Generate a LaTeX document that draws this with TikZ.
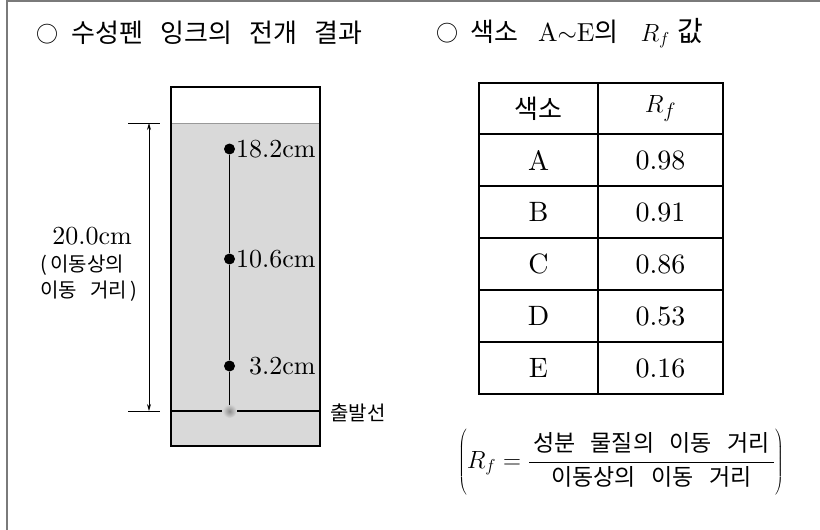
\documentclass[tikz,border=0pt]{standalone}
\usepackage{fontspec}
\setmainfont{lmroman10-regular.otf}[ItalicFont=lmroman10-italic.otf]
\newfontfamily\kr[WordSpace=3]{Noto Sans CJK KR}
\usetikzlibrary{arrows.meta}
\newcommand\myfs[1]{\fontsize{#1}{#1}\selectfont}
\definecolor{paper}{HTML}{D9D9D9}
\definecolor{framegray}{HTML}{7A7A7A}
\begin{document}
\begin{tikzpicture}[x=1pt,y=-1pt,
  dot/.style={circle,fill=black,inner sep=0pt,minimum size=11pt},
  lbl/.style={inner sep=0pt,anchor=west,font=\myfs{26}},
  krlbl/.style={inner sep=0pt,font=\kr\myfs{20}},
  cellt/.style={inner sep=0pt,font=\myfs{28}},
  tline/.style={line width=1.5pt},
  dimarrow/.style={{Stealth[length=7pt,width=4pt]}-{Stealth[length=7pt,width=4pt]},line width=0.8pt}]
\useasboundingbox (0,0) rectangle (820,530);
% frame
\draw[framegray,line width=2pt] (7,530) -- (7,1) -- (820,1);
% titles
\node[inner sep=0pt,anchor=west,font=\kr\myfs{26}] (t1) at (36,33) {{\myfs{22}○}\hspace{13pt}수성펜 잉크의 전개 결과};
\node[inner sep=0pt,anchor=west,font=\myfs{26}] (t2) at (436,33) {{\kr{\myfs{22}○}\hspace{12pt}색소}\hspace{20pt}A$\sim$E{\kr 의}\hspace{22pt}$R_f$\hspace{8pt}{\kr\myfs{28}값}};
% paper
\fill[paper] (171,123) rectangle (320,446);
\draw[black!40,line width=1pt] (171,123) -- (320,123);
\draw[line width=1.5pt] (171,87) rectangle (320,446);
% start line
\shade[inner color=black!45,outer color=paper] (229.5,411) circle (7);
\coordinate (s0) at (171,411);
\coordinate (s1) at (222,411);
\coordinate (s2) at (237,411);
\coordinate (s3) at (320,411);
\draw[line width=1.2pt] (s0) -- (s1) (s2) -- (s3);
\coordinate (spot) at (229.5,405);
\node[dot] (d1) at (229.5,149) {};
\node[dot] (d2) at (229.5,259) {};
\node[dot] (d3) at (229.5,366) {};
\draw[line width=1pt] (spot) -- (d3) -- (d2) -- (d1);
\node[lbl] (l1) at (236,149) {18.2cm};
\node[lbl] (l2) at (236,259) {10.6cm};
\node[lbl] (l3) at (249,366) {3.2cm};
\node[krlbl,anchor=west] (start) at (330,413) {출발선};
% dimension
\coordinate (tk1a) at (128,123);
\coordinate (tk1b) at (160,123);
\coordinate (tk2a) at (128,411);
\coordinate (tk2b) at (160,411);
\draw[line width=0.8pt] (tk1a) -- (tk1b) (tk2a) -- (tk2b);
\coordinate (da) at (149,123);
\coordinate (db) at (149,411);
\draw[dimarrow] (da) -- (db);
\node[inner sep=0pt,font=\myfs{26}] (dist) at (92,236) {20.0cm};
\node[krlbl,anchor=west] (k1) at (40,265) {(\,이동상의};
\node[krlbl,anchor=west] (k2) at (40,291) {이동 거리\,)};
% table
\draw[tline] (479,83) rectangle (723,394);
\foreach \yy in {134,186,238,290,342} \draw[tline] (479,\yy) -- (723,\yy);
\draw[tline] (598,83) -- (598,394);
\node[inner sep=0pt,font=\kr\myfs{26}] (h1) at (538.5,108.5) {색소};
\node[cellt] (h2) at (660.5,108.5) {$R_f$};
\node[cellt] (a1) at (538.5,160) {A};
\node[cellt] (a2) at (660.5,160) {0.98};
\node[cellt] (b1) at (538.5,212) {B};
\node[cellt] (b2) at (660.5,212) {0.91};
\node[cellt] (c1) at (538.5,264) {C};
\node[cellt] (c2) at (660.5,264) {0.86};
\node[cellt] (e1) at (538.5,316) {D};
\node[cellt] (e2) at (660.5,316) {0.53};
\node[cellt] (f1) at (538.5,368) {E};
\node[cellt] (f2) at (660.5,368) {0.16};
% formula
\node[inner sep=0pt,font=\myfs{27}] (formula) at (621,462) {$\left(\vrule height 27pt depth 27pt width 0pt R_f=\displaystyle\frac{\mbox{\kr\myfs{23}\hspace{4pt}성분 물질의 이동 거리\hspace{4pt}}}{\mbox{\kr\myfs{23}이동상의 이동 거리}}\right)$};
\end{tikzpicture}
\end{document}
